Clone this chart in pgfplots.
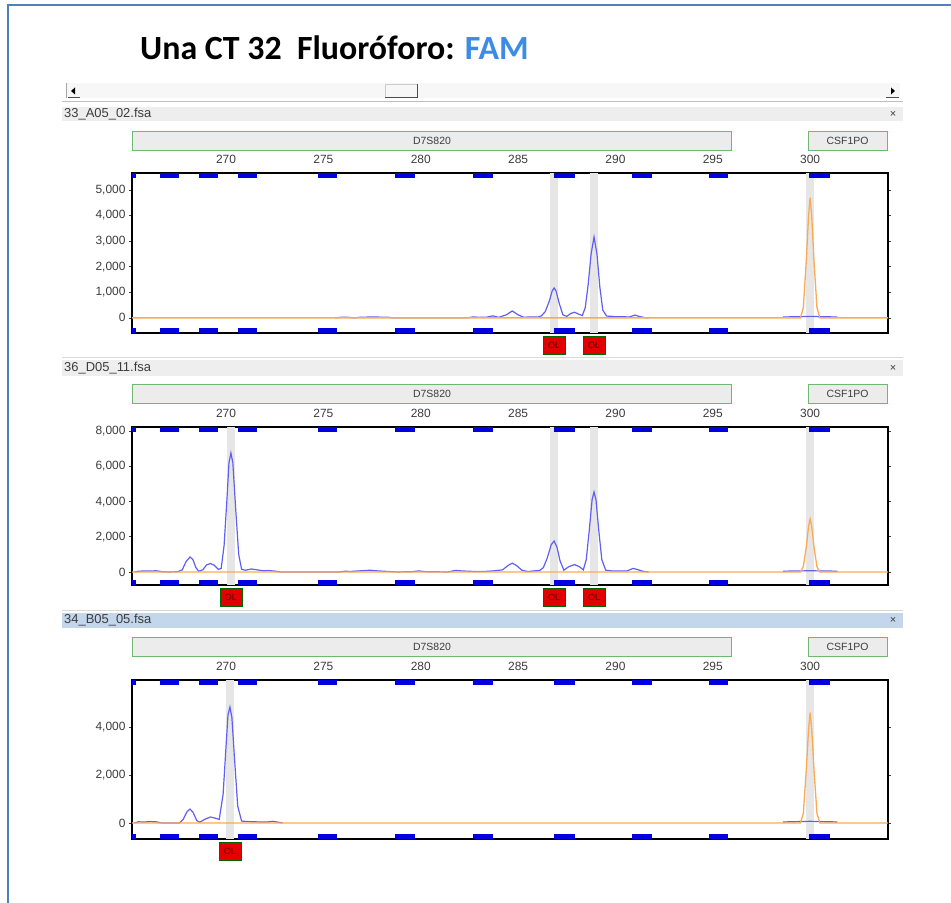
\documentclass[border=0pt]{standalone}
\usepackage{fontspec}
\setmainfont{Liberation Sans}
\newfontfamily\titlefont{Carlito}
\usepackage{pgfplots}
\pgfplotsset{compat=1.18}
\definecolor{trace}{RGB}{95,95,245}
\definecolor{orng}{RGB}{250,170,85}
\definecolor{binblue}{RGB}{0,0,225}
\definecolor{stripe}{RGB}{230,230,230}
\definecolor{frameblue}{RGB}{79,129,189}
\definecolor{famblue}{RGB}{60,140,230}
\definecolor{locgreen}{RGB}{110,185,110}
\definecolor{locfill}{RGB}{236,236,236}
\definecolor{hdrfill}{RGB}{238,238,238}
\definecolor{hdrsel}{RGB}{196,214,236}
\definecolor{allelered}{RGB}{228,0,0}
\definecolor{labgray}{RGB}{60,60,60}

\pgfplotsset{
  panel/.style={
    scale only axis, width=756bp, xmin=265.17, xmax=304,
    axis line style={black, line width=1.3bp},
    xtick={270,275,...,300}, xticklabel pos=upper,
    xtick style={draw=none},
    ytick style={labgray, line width=0.6bp}, major tick length=3bp, tick align=outside,
    tick label style={font=\fontsize{12}{12}\selectfont, text=labgray},
    xticklabel style={yshift=2.5bp},
    /pgf/number format/1000 sep={,},
    /pgf/number format/assume math mode=true,
    clip mode=individual,
    unbounded coords=jump,
  },
}
\tikzset{allele/.style={fill=allelered, draw=green!40!black, line width=0.4bp, minimum width=22bp, minimum height=18bp, inner sep=0pt, anchor=north, yshift=-3bp, font=\fontsize{9}{9}\selectfont, text=red!35!black}}

\begin{document}
\begin{tikzpicture}[x=1bp,y=1bp]
\useasboundingbox (0,0) rectangle (951,903);
% frame
\draw[frameblue, line width=2bp] (8,0) -- (8,898) -- (951,898);
% title
\node[anchor=base west, inner sep=0pt, font=\titlefont\bfseries\fontsize{34}{34}\selectfont] at (140,843) {Una CT 32\hspace{0.45em}Fluoróforo: \textcolor{famblue}{FAM}};
% scrollbar
\fill[gray!6] (66,805) rectangle (900,820);
\draw[gray!70] (66,805) -- (66,820);
\fill[black] (71,812) -- (75,815.5) -- (75,808.5) -- cycle;
\draw[gray!60!black] (68,805.5) -- (80,805.5);
\fill[black] (895,812) -- (891,815.5) -- (891,808.5) -- cycle;
\draw[gray!60!black] (886,805.5) -- (899,805.5);
\draw[gray!40] (385,806) rectangle (417,819);
\draw[gray!60!black, line width=0.8bp] (385,806) -- (417,806) -- (417,819);
\draw[gray!50] (62,802) -- (903,802);
% headers
\fill[hdrfill] (62,782) rectangle (903,796);
\node[anchor=west, font=\fontsize{13}{13}\selectfont, text=labgray, inner sep=0pt] at (64,789) {33\_A05\_02.fsa};
\node[font=\fontsize{11}{11}\selectfont, text=labgray, inner sep=0pt] at (893,789) {×};
\fill[hdrfill] (62,527) rectangle (903,543);
\node[anchor=west, font=\fontsize{13}{13}\selectfont, text=labgray, inner sep=0pt] at (64,535) {36\_D05\_11.fsa};
\node[font=\fontsize{11}{11}\selectfont, text=labgray, inner sep=0pt] at (893,535) {×};
\fill[hdrsel] (62,275) rectangle (903,290);
\node[anchor=west, font=\fontsize{13}{13}\selectfont, text=labgray, inner sep=0pt] at (64,282.5) {34\_B05\_05.fsa};
\node[font=\fontsize{11}{11}\selectfont, text=labgray, inner sep=0pt] at (893,282.5) {×};
\draw[gray!30] (62,546) -- (903,546);
\draw[gray!30] (62,293) -- (903,293);
% locus boxes
\foreach \yb in {753,500,247} {
  \draw[locgreen, fill=locfill, line width=0.8bp] (132,\yb) rectangle (731,\yb+19);
  \node[font=\fontsize{10.5}{10.5}\selectfont, text=labgray, inner sep=0pt] at (432,\yb+9.5) {D7S820};
  \draw[locgreen, fill=locfill, line width=0.8bp] (808,\yb) rectangle (887,\yb+19);
  \node[font=\fontsize{10.5}{10.5}\selectfont, text=labgray, inner sep=0pt] at (847.5,\yb+9.5) {CSF1PO};
}

% ---------------- panel 1 ----------------
\begin{axis}[panel, at={(132bp,570bp)}, anchor=south west, height=160bp,
  ymin=-590, ymax=5660, ytick={0,1000,...,5000}]
\addplot[stripe, line width=8bp] coordinates {(286.85,-590)(286.85,5660)(286.85,nan)(288.9,-590)(288.9,5660)(288.9,nan)(300.0,-590)(300.0,5660)};
\addplot[binblue, line width=5bp] coordinates {(265.17,5562)(265.35,5562)(265.35,nan)(266.6,5562)(267.6,5562)(267.6,nan)(268.6,5562)(269.6,5562)(269.6,nan)(270.6,5562)(271.6,5562)(271.6,nan)(274.7,5562)(275.7,5562)(275.7,nan)(278.7,5562)(279.7,5562)(279.7,nan)(282.7,5562)(283.7,5562)(283.7,nan)(286.85,5562)(287.9,5562)(287.9,nan)(290.85,5562)(291.9,5562)(291.9,nan)(294.8,5562)(295.8,5562)(295.8,nan)(299.95,5562)(301.0,5562)};
\addplot[binblue, line width=5bp] coordinates {(265.17,-492)(265.35,-492)(265.35,nan)(266.6,-492)(267.6,-492)(267.6,nan)(268.6,-492)(269.6,-492)(269.6,nan)(270.6,-492)(271.6,-492)(271.6,nan)(274.7,-492)(275.7,-492)(275.7,nan)(278.7,-492)(279.7,-492)(279.7,nan)(282.7,-492)(283.7,-492)(283.7,nan)(286.85,-492)(287.9,-492)(287.9,nan)(290.85,-492)(291.9,-492)(291.9,nan)(294.8,-492)(295.8,-492)(295.8,nan)(299.95,-492)(301.0,-492)};
\addplot[trace, line width=1.2bp] coordinates {(275.6,0)(276.0,30)(276.3,20)(276.6,0)(276.9,25)(277.5,35)(278.3,25)(278.6,0)(282.4,0)(282.7,40)(283.0,20)(283.4,30)(283.7,80)(284.0,20)(284.4,120)(284.7,270)(285.0,120)(285.3,20)(285.6,40)(286.0,30)(286.2,80)(286.4,250)(286.6,650)(286.75,1050)(286.85,1170)(286.95,1050)(287.1,600)(287.3,120)(287.5,60)(287.7,170)(287.9,220)(288.1,150)(288.3,90)(288.45,400)(288.6,1300)(288.75,2500)(288.9,3160)(289.05,2500)(289.2,1200)(289.35,300)(289.55,70)(289.8,60)(290.1,40)(290.4,50)(290.7,30)(291.0,110)(291.2,60)(291.5,10)(291.7,0)(291.7,nan)(298.6,30)(298.9,40)(299.5,45)(300.0,60)(300.5,45)(301.1,40)(301.4,30)};
\addplot[orng, line width=1.3bp] coordinates {(265.17,0)(299.5,0)(299.65,400)(299.8,2200)(299.92,4000)(300.0,4700)(300.08,4000)(300.2,2200)(300.35,400)(300.5,0)(304,0)};
\node[allele] at (axis cs:286.85,-590) {OL};
\node[allele] at (axis cs:288.9,-590) {OL};
\end{axis}

% ---------------- panel 2 ----------------
\begin{axis}[panel, at={(132bp,318bp)}, anchor=south west, height=158bp,
  ymin=-740, ymax=8240, ytick={0,2000,...,8000}]
\addplot[stripe, line width=8bp] coordinates {(270.25,-740)(270.25,8240)(270.25,nan)(286.85,-740)(286.85,8240)(286.85,nan)(288.9,-740)(288.9,8240)(288.9,nan)(300.0,-740)(300.0,8240)};
\addplot[binblue, line width=5bp] coordinates {(265.17,8098)(265.35,8098)(265.35,nan)(266.6,8098)(267.6,8098)(267.6,nan)(268.6,8098)(269.6,8098)(269.6,nan)(270.6,8098)(271.6,8098)(271.6,nan)(274.7,8098)(275.7,8098)(275.7,nan)(278.7,8098)(279.7,8098)(279.7,nan)(282.7,8098)(283.7,8098)(283.7,nan)(286.85,8098)(287.9,8098)(287.9,nan)(290.85,8098)(291.9,8098)(291.9,nan)(294.8,8098)(295.8,8098)(295.8,nan)(299.95,8098)(301.0,8098)};
\addplot[binblue, line width=5bp] coordinates {(265.17,-598)(265.35,-598)(265.35,nan)(266.6,-598)(267.6,-598)(267.6,nan)(268.6,-598)(269.6,-598)(269.6,nan)(270.6,-598)(271.6,-598)(271.6,nan)(274.7,-598)(275.7,-598)(275.7,nan)(278.7,-598)(279.7,-598)(279.7,nan)(282.7,-598)(283.7,-598)(283.7,nan)(286.85,-598)(287.9,-598)(287.9,nan)(290.85,-598)(291.9,-598)(291.9,nan)(294.8,-598)(295.8,-598)(295.8,nan)(299.95,-598)(301.0,-598)};
\addplot[trace, line width=1.2bp] coordinates {(265.3,0)(265.5,40)(265.8,60)(266.1,50)(266.4,70)(266.7,20)(267.0,0)(267.5,10)(267.75,120)(267.95,600)(268.15,850)(268.3,700)(268.45,250)(268.6,40)(268.8,120)(269.0,400)(269.2,480)(269.4,380)(269.6,150)(269.75,200)(269.9,1500)(270.05,4200)(270.15,6200)(270.25,6760)(270.35,6200)(270.5,3500)(270.65,1000)(270.8,150)(271.0,100)(271.3,170)(271.6,120)(271.9,70)(272.2,80)(272.5,50)(272.8,0)(275.8,0)(276.1,40)(276.4,30)(276.8,60)(277.4,100)(277.8,60)(278.3,30)(278.8,0)(279.6,20)(279.9,60)(280.2,20)(281.4,0)(281.8,90)(282.1,60)(282.5,40)(282.9,20)(283.3,30)(283.7,60)(284.2,120)(284.5,380)(284.7,500)(284.9,380)(285.2,100)(285.5,20)(285.8,60)(286.1,80)(286.3,250)(286.5,800)(286.7,1550)(286.85,1760)(287.0,1400)(287.15,650)(287.35,100)(287.6,300)(287.9,420)(288.15,300)(288.35,120)(288.5,700)(288.65,2300)(288.8,4100)(288.9,4550)(289.0,4100)(289.15,2300)(289.3,700)(289.5,100)(289.8,60)(290.2,50)(290.6,60)(290.9,200)(291.1,150)(291.4,40)(291.7,0)(291.7,nan)(298.6,40)(298.9,50)(299.5,60)(300.0,70)(300.5,60)(301.1,50)(301.4,40)};
\addplot[orng, line width=1.3bp] coordinates {(265.17,0)(299.5,0)(299.65,300)(299.8,1400)(299.92,2600)(300.0,3000)(300.08,2600)(300.2,1400)(300.35,300)(300.5,0)(304,0)};
\node[allele] at (axis cs:270.25,-740) {OL};
\node[allele] at (axis cs:286.85,-740) {OL};
\node[allele] at (axis cs:288.9,-740) {OL};
\end{axis}

% ---------------- panel 3 ----------------
\begin{axis}[panel, at={(132bp,64bp)}, anchor=south west, height=159bp,
  ymin=-667, ymax=5960, ytick={0,2000,4000}]
\addplot[stripe, line width=8bp] coordinates {(270.2,-667)(270.2,5960)(270.2,nan)(300.0,-667)(300.0,5960)};
\addplot[binblue, line width=5bp] coordinates {(265.17,5856)(265.35,5856)(265.35,nan)(266.6,5856)(267.6,5856)(267.6,nan)(268.6,5856)(269.6,5856)(269.6,nan)(270.6,5856)(271.6,5856)(271.6,nan)(274.7,5856)(275.7,5856)(275.7,nan)(278.7,5856)(279.7,5856)(279.7,nan)(282.7,5856)(283.7,5856)(283.7,nan)(286.85,5856)(287.9,5856)(287.9,nan)(290.85,5856)(291.9,5856)(291.9,nan)(294.8,5856)(295.8,5856)(295.8,nan)(299.95,5856)(301.0,5856)};
\addplot[binblue, line width=5bp] coordinates {(265.17,-563)(265.35,-563)(265.35,nan)(266.6,-563)(267.6,-563)(267.6,nan)(268.6,-563)(269.6,-563)(269.6,nan)(270.6,-563)(271.6,-563)(271.6,nan)(274.7,-563)(275.7,-563)(275.7,nan)(278.7,-563)(279.7,-563)(279.7,nan)(282.7,-563)(283.7,-563)(283.7,nan)(286.85,-563)(287.9,-563)(287.9,nan)(290.85,-563)(291.9,-563)(291.9,nan)(294.8,-563)(295.8,-563)(295.8,nan)(299.95,-563)(301.0,-563)};
\addplot[trace, line width=1.2bp] coordinates {(265.3,0)(265.5,50)(265.8,40)(266.1,60)(266.4,50)(266.7,0)(267.6,0)(267.8,150)(268.0,480)(268.15,580)(268.3,450)(268.5,100)(268.65,30)(268.9,150)(269.2,250)(269.45,200)(269.65,150)(269.85,1200)(270.0,3200)(270.1,4500)(270.2,4830)(270.3,4400)(270.45,2500)(270.6,700)(270.8,80)(271.1,60)(271.5,50)(271.8,40)(272.1,40)(272.4,70)(272.7,30)(272.9,0)(272.9,nan)(298.6,40)(298.9,50)(299.5,60)(300.0,70)(300.5,60)(301.1,50)(301.4,40)};
\addplot[orng, line width=1.3bp] coordinates {(265.17,0)(299.5,0)(299.65,400)(299.8,2200)(299.92,3900)(300.0,4600)(300.08,3900)(300.2,2200)(300.35,400)(300.5,0)(304,0)};
\node[allele] at (axis cs:270.2,-667) {OL};
\end{axis}
\end{tikzpicture}
\end{document}
